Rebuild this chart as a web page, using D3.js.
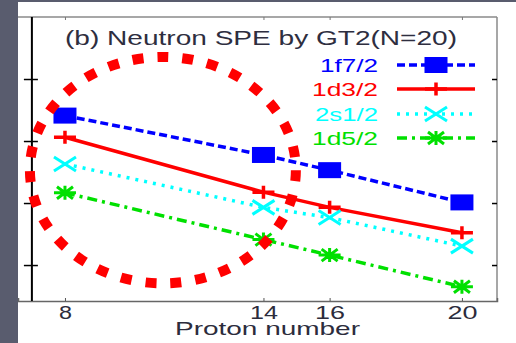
<!DOCTYPE html>
<html>
<head>
<meta charset="utf-8">
<script src="https://cdn.jsdelivr.net/npm/d3@7"></script>
<style>
  html, body { margin: 0; padding: 0; background: #fff; }
  svg { display: block; font-family: "Liberation Sans", Arial, sans-serif; }
</style>
</head>
<body>
<svg id="chart" width="516" height="343"></svg>
<script>
// proton numbers and neutron single-particle energies (MeV)
const protons = [8, 14, 16, 20];
const f72 = [-3.18, -4.45, -4.94, -5.98];
const d32 = [-3.88, -5.65, -6.14, -6.96];
const s12 = [-4.74, -6.14, -6.47, -7.39];
const d52 = [-5.67, -7.18, -7.68, -8.70];
const seriesNames = ["1f7/2", "1d3/2", "2s1/2", "1d5/2"];
const xTicks = [8, 14, 16, 20];
const yTicks = [-2, -4, -6, -8];

const svg = d3.select("#chart");
const W = 516, H = 343;

// background strips of the slide
svg.append("rect").attr("width", W).attr("height", H).attr("fill", "#fff");
svg.append("rect").attr("width", 18).attr("height", H).attr("fill", "#595c6e");
svg.append("rect").attr("width", W).attr("height", 2).attr("fill", "#595c6e");

const x = d3.scaleLinear().domain([6.58, 21.06]).range([18, 497]);
const y = d3.scaleLinear().domain([-9.16, 0]).range([301, 17]);

// the picture is stretched sideways, so fit each text to its measured width
function fit(sel, w) {
  sel.attr("textLength", w).attr("lengthAdjust", "spacingAndGlyphs");
}

// frame
svg.append("line").attr("x1", 18).attr("x2", 497).attr("y1", 17).attr("y2", 17)
  .attr("stroke", "#8a8a8a").attr("stroke-width", 1.5);
svg.append("line").attr("x1", 497).attr("x2", 497).attr("y1", 17).attr("y2", 301)
  .attr("stroke", "#8a8a8a").attr("stroke-width", 1.5);

// bottom axis
const tickW = { 8: 13, 14: 28, 16: 30, 20: 30 };
const xAxis = svg.append("g").attr("transform", "translate(0,301)")
  .call(d3.axisBottom(x).tickValues(xTicks).tickSize(-3).tickPadding(5));
xAxis.select(".domain").attr("stroke", "#666").attr("stroke-width", 1.5);
xAxis.selectAll(".tick line").attr("stroke", "#555");
xAxis.selectAll(".tick text").attr("font-size", 18).attr("fill", "#2c2c3c")
  .attr("dy", "0.72em")
  .each(function(d) { fit(d3.select(this), tickW[d]); });

// top ticks
svg.append("g").attr("transform", "translate(0,17)")
  .call(d3.axisTop(x).tickValues(xTicks).tickSize(-3).tickFormat(""))
  .call(g => g.select(".domain").remove())
  .selectAll(".tick line").attr("stroke", "#777");

// y axis line at Z=7 with crossing ticks
const yAxis = svg.append("g").attr("transform", `translate(${x(7)},0)`)
  .call(d3.axisLeft(y).tickValues(yTicks).tickSize(5).tickFormat(""));
yAxis.select(".domain").attr("stroke", "#000").attr("stroke-width", 2).attr("d", `M0,${y(0)}V${y(-9.16)}`);
yAxis.selectAll(".tick line").attr("x1", 6).attr("x2", -8).attr("stroke", "#000").attr("stroke-width", 1.5);

// right ticks
svg.append("g").attr("transform", "translate(497,0)")
  .call(d3.axisRight(y).tickValues(yTicks).tickSize(-5).tickFormat(""))
  .call(g => g.select(".domain").remove())
  .selectAll(".tick line").attr("stroke", "#000").attr("stroke-width", 1.5);

// axis title
svg.append("text").attr("x", 175).attr("y", 335)
  .attr("font-size", 19).attr("fill", "#2c2c3c").text("Proton number").call(fit, 185);

// chart title
svg.append("text").attr("x", 65).attr("y", 45)
  .attr("font-size", 19.5).attr("fill", "#2e2e40").text("(b) Neutron SPE by GT2(N=20)").call(fit, 392);

const series = [
  { name: seriesNames[0], vals: f72, color: "#0000ff", dash: "8,4", marker: "square" },
  { name: seriesNames[1], vals: d32, color: "#ff0000", dash: null, marker: "plus" },
  { name: seriesNames[2], vals: s12, color: "#00ffff", dash: "3,6", marker: "cross" },
  { name: seriesNames[3], vals: d52, color: "#00e000", dash: "10,5,3,5", marker: "star" }
];

function drawMarker(g, type, cx, cy, color) {
  if (type === "square") {
    g.append("rect").attr("x", cx - 11.5).attr("y", cy - 8).attr("width", 23).attr("height", 16)
      .attr("fill", color);
  } else if (type === "plus") {
    g.append("path").attr("d", `M${cx - 11},${cy}H${cx + 11}M${cx},${cy - 6.5}V${cy + 6.5}`)
      .attr("stroke", color).attr("stroke-width", 3.5).attr("fill", "none");
  } else if (type === "cross") {
    g.append("path").attr("d", `M${cx - 11},${cy - 7}L${cx + 11},${cy + 7}M${cx - 11},${cy + 7}L${cx + 11},${cy - 7}`)
      .attr("stroke", color).attr("stroke-width", 3).attr("fill", "none");
  } else {
    g.append("path").attr("d",
      `M${cx - 11},${cy}H${cx + 11}M${cx},${cy - 7}V${cy + 7}` +
      `M${cx - 8},${cy - 6}L${cx + 8},${cy + 6}M${cx - 8},${cy + 6}L${cx + 8},${cy - 6}`)
      .attr("stroke", color).attr("stroke-width", 3).attr("fill", "none");
  }
}

const line = d3.line().x(d => x(d[0])).y(d => y(d[1]));
const plot = svg.append("g");
series.forEach(s => {
  const pts = protons.map((p, i) => [p, s.vals[i]]);
  plot.append("path").attr("d", line(pts)).attr("fill", "none")
    .attr("stroke", s.color).attr("stroke-width", 3.5)
    .attr("stroke-dasharray", s.dash);
  pts.forEach(p => drawMarker(plot, s.marker, x(p[0]), y(p[1]), s.color));
});

// legend
const legendY = [65, 89, 114, 138];
const legendW = [58, 66, 63, 66];
series.forEach((s, i) => {
  const ly = legendY[i];
  svg.append("text").attr("x", 378 - legendW[i]).attr("y", ly + 7)
    .attr("font-size", 18.5).attr("fill", s.color).text(s.name).call(fit, legendW[i]);
  svg.append("line").attr("x1", 397).attr("x2", 475).attr("y1", ly).attr("y2", ly)
    .attr("stroke", s.color).attr("stroke-width", 3.5).attr("stroke-dasharray", s.dash);
  drawMarker(svg, s.marker, 436, ly, s.color);
});

// red dotted ellipse highlighting the light-proton side
const hl = { cx: 10.96, cy: -4.94, rx: 4.02, ry: 3.65 };
svg.append("ellipse")
  .attr("cx", x(hl.cx)).attr("cy", y(hl.cy))
  .attr("rx", x(hl.cx + hl.rx) - x(hl.cx)).attr("ry", y(hl.cy - hl.ry) - y(hl.cy))
  .attr("fill", "none").attr("stroke", "#ff0000").attr("stroke-width", 10)
  .attr("stroke-dasharray", "11,14");
</script>
</body>
</html>
